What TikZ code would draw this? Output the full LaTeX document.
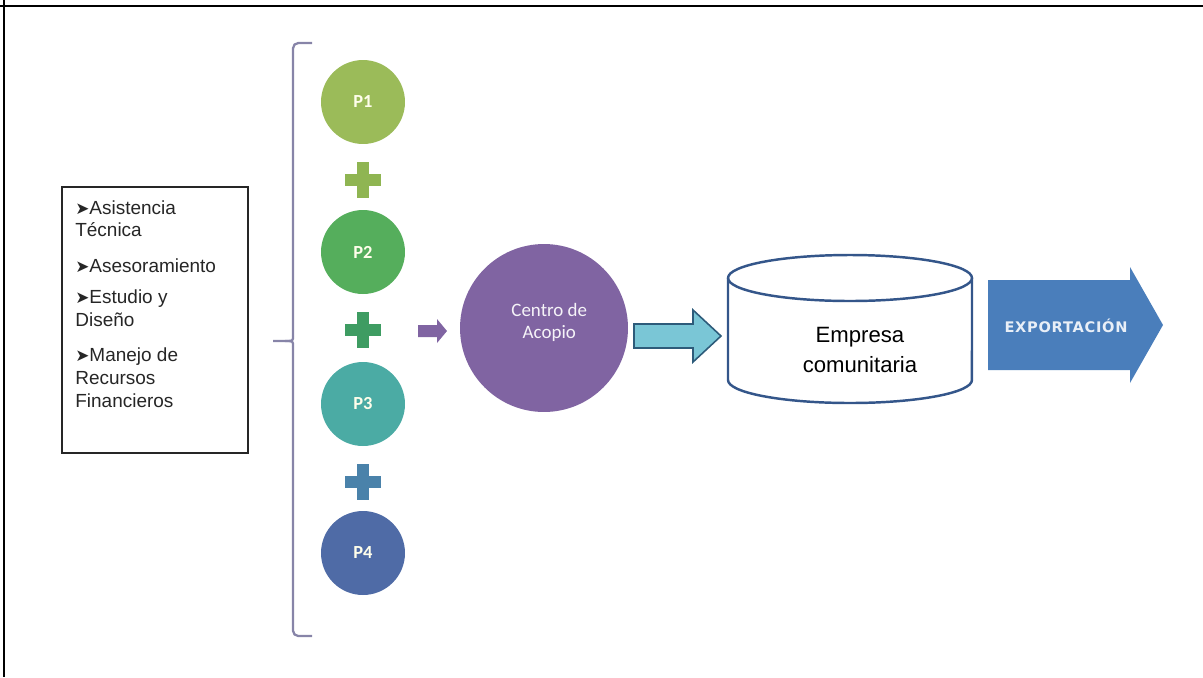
\documentclass[tikz,border=0pt]{standalone}
\usepackage{fontspec}
\setmainfont{Liberation Sans}
\newfontfamily\calib{Carlito}
\newfontfamily\symfont{DejaVu Sans}
\newfontfamily\expfont{DejaVu Sans}[LetterSpace=5.0]
\definecolor{pone}{HTML}{9BBB59}
\definecolor{ptwo}{HTML}{55AE5C}
\definecolor{pthree}{HTML}{4BABA4}
\definecolor{pfour}{HTML}{4F6BA6}
\definecolor{plusone}{HTML}{8FB552}
\definecolor{plustwo}{HTML}{3E9C62}
\definecolor{plusthree}{HTML}{4A82AA}
\definecolor{acopio}{HTML}{8064A2}
\definecolor{celeste}{HTML}{7AC6D6}
\definecolor{celesteborde}{HTML}{2D5B7A}
\definecolor{cilindro}{HTML}{34568A}
\definecolor{export}{HTML}{4A7EBB}
\definecolor{llave}{HTML}{8784A8}
\newcommand{\itemflecha}{{\symfont\fontsize{9.6pt}{13pt}\selectfont ➤}}
\tikzset{
  pnode/.style={circle, inner sep=0pt, minimum size=1.68cm,
    text=white!92!yellow, font=\calib\bfseries\fontsize{10.5pt}{12pt}\selectfont},
  plussign/.pic={
    \fill[pic actions] (-18,-6) rectangle (18,6);
    \fill[pic actions] (-6,-18) rectangle (6,18);
  },
}
\begin{document}
\begin{tikzpicture}[x=0.02cm, y=-0.02cm]
\useasboundingbox (0,0) rectangle (1203,677);
% page frame: top rule and left rule
\draw[line width=1.6pt] (0,6) -- (1203,6);
\draw[line width=0.9pt] (4,0) -- (4,677);

% list of services
\node[draw=black!85, line width=0.9pt, anchor=north west, minimum width=3.72cm,
      minimum height=5.32cm, inner sep=0pt] (servicios) at (61,186) {};
\node[anchor=north west, align=left, inner sep=0pt,
      font=\fontsize{10.8pt}{13pt}\selectfont, text=black!85] (lista) at (75,200)
  {\itemflecha Asistencia\\ Técnica\\[7pt]
   \itemflecha Asesoramiento\\[5pt]
   \itemflecha Estudio y\\ Diseño\\[7pt]
   \itemflecha Manejo de\\ Recursos\\ Financieros};

% brace grouping the producers
\draw[llave, line width=1.3pt, rounded corners=3pt]
  (312,43) -- (293,43) -- (293,336);
\draw[llave, line width=1.3pt]
  (293,336) .. controls (293,341) .. (285,341) -- (273,341);
\draw[llave, line width=1.3pt]
  (285,341) .. controls (293,341) .. (293,346);
\draw[llave, line width=1.3pt, rounded corners=3pt]
  (293,346) -- (293,636) -- (312,636);

% producers
\node[pnode, fill=pone]   (p1) at (363,102) {P1};
\node[pnode, fill=ptwo]   (p2) at (363,252) {P2};
\node[pnode, fill=pthree] (p3) at (363,404) {P3};
\node[pnode, fill=pfour]  (p4) at (363,553) {P4};
\pic[fill=plusone]   (masA) at (363,180) {plussign};
\pic[fill=plustwo]   (masB) at (363,330) {plussign};
\pic[fill=plusthree] (masC) at (363,482) {plussign};

% small arrow into the collection centre
\fill[acopio] (418,325) -- (437,325) -- (437,319) -- (447,331)
  -- (437,343) -- (437,337) -- (418,337) -- cycle;

% collection centre
\node[circle, fill=acopio, minimum size=3.36cm, inner sep=0pt, align=center,
      text=white!92!acopio, font=\calib\fontsize{10.8pt}{12.5pt}\selectfont]
  (centro) at (544,328) {\hspace*{6pt}Centro de\\\hspace*{6pt}Acopio\\[-4pt]};

% arrow to the community enterprise
\filldraw[fill=celeste, draw=celesteborde, line width=0.9pt, line join=miter]
  (634,324) -- (693,324) -- (693,310) -- (721,336)
  -- (693,362) -- (693,348) -- (634,348) -- cycle;

% community enterprise (cylinder)
\filldraw[fill=white, draw=cilindro, line width=1.4pt]
  (728,278) -- (728,380) arc[start angle=180, end angle=360,
    x radius=2.44cm, y radius=0.46cm] -- (972,278);
\draw[cilindro, line width=1.4pt] (850,278) ellipse [x radius=2.44cm, y radius=0.46cm];
\node[align=center, inner sep=0pt, font=\fontsize{12.6pt}{17pt}\selectfont]
  (empresa) at (860,350) {Empresa\\comunitaria};

% export arrow
\fill[export] (988,280) -- (1130,280) -- (1130,267) -- (1163,325)
  -- (1130,383) -- (1130,370) -- (988,370) -- cycle;
\node[inner sep=0pt, text=white!88!export,
      font=\expfont\bfseries\fontsize{8.3pt}{9pt}\selectfont]
  (exportacion) at (1066,326) {EXPORTACIÓN};
\end{tikzpicture}
\end{document}
